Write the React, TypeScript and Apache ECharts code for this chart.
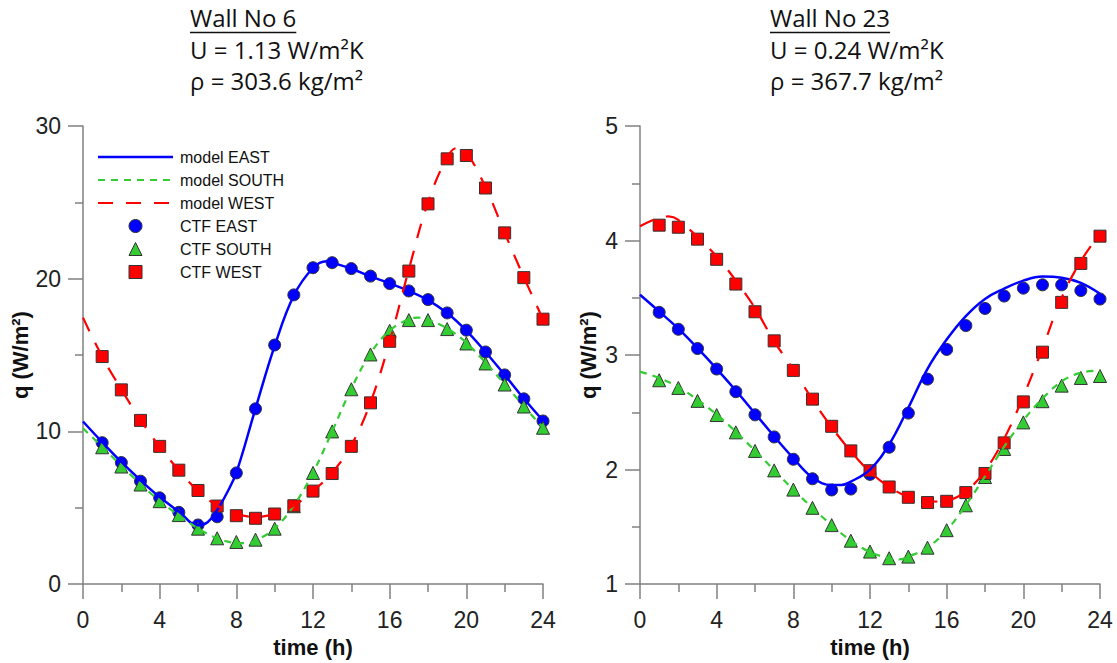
import React, { useEffect, useRef } from "react";
import * as echarts from "echarts";

// Hourly CTF results (hours 1..24)
const ctfHours = [1, 2, 3, 4, 5, 6, 7, 8, 9, 10, 11, 12, 13, 14, 15, 16, 17, 18, 19, 20, 21, 22, 23, 24];

// Wall No 6
const wall6CtfEast = [9.26, 7.96, 6.74, 5.65, 4.7, 3.87, 4.41, 7.28, 11.48, 15.66, 18.94, 20.72, 21.05, 20.66, 20.17, 19.68, 19.2, 18.63, 17.76, 16.63, 15.2, 13.7, 12.13, 10.68];
const wall6CtfSouth = [8.96, 7.7, 6.52, 5.43, 4.52, 3.63, 3.0, 2.76, 2.91, 3.63, 5.1, 7.28, 10.0, 12.76, 15.04, 16.59, 17.29, 17.29, 16.7, 15.76, 14.45, 13.07, 11.63, 10.24];
const wall6CtfWest = [14.9, 12.72, 10.72, 9.02, 7.46, 6.13, 5.11, 4.48, 4.31, 4.59, 5.13, 6.09, 7.24, 9.02, 11.87, 15.9, 20.5, 24.9, 27.85, 28.07, 25.94, 23.0, 20.07, 17.35];

const wall6ModelEastHours = [0, 1, 2, 3, 4, 5, 6, 6.5, 7, 7.5, 8, 9, 10, 11, 12, 12.7, 13, 14, 15, 16, 17, 18, 19, 20, 21, 22, 23, 24];
const wall6ModelEast = [10.65, 9.3, 8.0, 6.8, 5.7, 4.75, 3.85, 4.05, 4.85, 5.95, 7.3, 11.5, 15.6, 18.9, 20.7, 21.15, 21.05, 20.65, 20.15, 19.7, 19.2, 18.6, 17.75, 16.6, 15.2, 13.7, 12.15, 10.7];
const wall6ModelSouthHours = [0, 1, 2, 3, 4, 5, 6, 7, 8, 8.5, 9, 10, 11, 12, 13, 14, 15, 16, 17, 17.5, 18, 19, 20, 21, 22, 23, 24];
const wall6ModelSouth = [10.2, 9.0, 7.75, 6.55, 5.45, 4.5, 3.65, 3.0, 2.7, 2.68, 2.85, 3.65, 5.15, 7.3, 10.0, 12.8, 15.1, 16.6, 17.35, 17.45, 17.3, 16.75, 15.8, 14.5, 13.1, 11.65, 10.25];
const wall6ModelWestHours = [0, 1, 2, 3, 4, 5, 6, 7, 8, 9, 10, 11, 12, 13, 14, 15, 16, 17, 18, 19, 19.5, 20, 21, 22, 23, 24];
const wall6ModelWest = [17.45, 14.9, 12.75, 10.75, 9.0, 7.45, 6.1, 5.15, 4.6, 4.4, 4.6, 5.15, 6.1, 7.3, 9.1, 11.9, 15.9, 20.6, 25.0, 27.95, 28.55, 28.25, 26.0, 23.0, 20.1, 17.35];

// Wall No 23
const wall23CtfEast = [3.373, 3.225, 3.057, 2.878, 2.68, 2.478, 2.285, 2.09, 1.92, 1.822, 1.83, 1.958, 2.195, 2.493, 2.79, 3.049, 3.257, 3.407, 3.515, 3.584, 3.613, 3.613, 3.563, 3.489];
const wall23CtfSouth = [2.78, 2.713, 2.6, 2.476, 2.325, 2.163, 1.993, 1.825, 1.666, 1.515, 1.379, 1.284, 1.226, 1.24, 1.318, 1.471, 1.688, 1.935, 2.18, 2.412, 2.597, 2.733, 2.8, 2.817];
const wall23CtfWest = [4.134, 4.116, 4.012, 3.836, 3.62, 3.378, 3.124, 2.866, 2.615, 2.378, 2.163, 1.99, 1.848, 1.758, 1.712, 1.723, 1.799, 1.966, 2.233, 2.591, 3.025, 3.46, 3.8, 4.038];

const wall23ModelEastHours = [0, 1, 2, 3, 4, 5, 6, 7, 8, 9, 10, 10.5, 11, 12, 13, 14, 15, 16, 17, 18, 19, 20, 21, 22, 23, 24];
const wall23ModelEast = [3.526, 3.38, 3.23, 3.06, 2.88, 2.69, 2.49, 2.29, 2.1, 1.93, 1.865, 1.865, 1.895, 2.0, 2.22, 2.54, 2.88, 3.135, 3.34, 3.49, 3.58, 3.65, 3.685, 3.675, 3.63, 3.535];
const wall23ModelSouthHours = [0, 1, 2, 3, 4, 5, 6, 7, 8, 9, 10, 11, 12, 13, 13.5, 14, 15, 16, 17, 18, 19, 20, 21, 22, 23, 24];
const wall23ModelSouth = [2.855, 2.8, 2.72, 2.61, 2.48, 2.33, 2.165, 1.995, 1.825, 1.665, 1.515, 1.38, 1.28, 1.225, 1.215, 1.24, 1.32, 1.47, 1.69, 1.94, 2.2, 2.43, 2.62, 2.77, 2.845, 2.865];
const wall23ModelWestHours = [0, 1, 1.5, 2, 3, 4, 5, 6, 7, 8, 9, 10, 11, 12, 13, 14, 15, 16, 17, 18, 19, 20, 21, 22, 23, 24];
const wall23ModelWest = [4.125, 4.2, 4.21, 4.18, 4.03, 3.86, 3.65, 3.41, 3.12, 2.875, 2.61, 2.37, 2.16, 1.98, 1.85, 1.76, 1.72, 1.73, 1.81, 1.99, 2.27, 2.64, 3.06, 3.5, 3.82, 4.06];

const wall6Title = ["Wall No 6", "U = 1.13 W/m²K", "ρ = 303.6 kg/m²"];
const wall23Title = ["Wall No 23", "U = 0.24 W/m²K", "ρ = 367.7 kg/m²"];

const legendNames = ["model EAST", "model SOUTH", "model WEST", "CTF EAST", "CTF SOUTH", "CTF WEST"];

const BLUE = "#0000ff";
const GREEN = "#33cc33";
const RED = "#ff0000";
const MARK_BORDER = "#333333";
const AXIS_GRAY = "#808080";
const LABEL_FONT = "'Liberation Sans', Arial, sans-serif";
const TITLE_FONT = "'Open Sans', 'Noto Sans', sans-serif";
const TITLE_SIZE = 24;

const SOUTH_DASH = [7, 6];
const WEST_DASH = [15, 13];

const pairs = (xs: number[], ys: number[]) => xs.map((x, i) => [x, ys[i]]);

function measure(text: string, font: string): number {
  const ctx = document.createElement("canvas").getContext("2d");
  if (!ctx) return text.length * 11;
  ctx.font = font;
  return ctx.measureText(text).width;
}

function titleGraphics(lines: string[], left: number) {
  const baselines = [29.5, 61, 92.5];
  const els: any[] = [];
  lines.forEach((t, i) => {
    els.push({
      type: "text",
      x: left,
      y: baselines[i],
      style: {
        text: t,
        fontSize: TITLE_SIZE,
        fontFamily: TITLE_FONT,
        fill: "#111",
        align: "left",
        verticalAlign: "bottom",
      },
    });
  });
  const w = measure(lines[0], `${TITLE_SIZE}px 'Open Sans'`);
  els.push({
    type: "line",
    shape: { x1: left, y1: 32.5, x2: left + w, y2: 32.5 },
    style: { stroke: "#111", lineWidth: 1.5 },
  });
  return els;
}

// Key for the Wall No 6 panel: three line samples then three marker samples
function legendGraphics(left: number, top: number) {
  const rowGap = 23;
  const lineLen = 75;
  const cx = left + lineLen / 2;
  const textX = left + lineLen + 7;
  const els: any[] = [];
  const lineStyles = [
    { stroke: BLUE, lineWidth: 2.5 },
    { stroke: GREEN, lineWidth: 2.2, lineDash: SOUTH_DASH },
    { stroke: RED, lineWidth: 2.2, lineDash: WEST_DASH },
  ];
  legendNames.forEach((name, i) => {
    const y = top + i * rowGap;
    if (i < 3) {
      els.push({ type: "line", shape: { x1: left, y1: y, x2: left + lineLen, y2: y }, style: lineStyles[i] });
    } else if (i === 3) {
      els.push({ type: "circle", shape: { cx, cy: y, r: 6.5 }, style: { fill: BLUE, stroke: MARK_BORDER, lineWidth: 1 } });
    } else if (i === 4) {
      els.push({
        type: "polygon",
        shape: { points: [[cx, y - 6.5], [cx + 6.5, y + 6.5], [cx - 6.5, y + 6.5]] },
        style: { fill: GREEN, stroke: MARK_BORDER, lineWidth: 1 },
      });
    } else {
      els.push({ type: "rect", shape: { x: cx - 6.5, y: y - 6.5, width: 13, height: 13 }, style: { fill: RED, stroke: MARK_BORDER, lineWidth: 1 } });
    }
    els.push({
      type: "text",
      x: textX,
      y,
      style: { text: name, fontSize: 16, fontFamily: LABEL_FONT, fill: "#111", align: "left", verticalAlign: "middle" },
    });
  });
  return els;
}

function axes(gridIndex: number, yMin: number, yMax: number, yInterval: number, yNameGap: number) {
  const line = { color: AXIS_GRAY, width: 1.5 };
  const common = {
    type: "value" as const,
    gridIndex,
    axisLine: { show: true, lineStyle: line },
    axisTick: { show: true, length: 15, lineStyle: line },
    minorTick: { show: true, splitNumber: 2, length: 8, lineStyle: line },
    splitLine: { show: false },
    minorSplitLine: { show: false },
    nameLocation: "middle" as const,
    nameTextStyle: { fontSize: 22, fontWeight: "bold" as const, color: "#111", fontFamily: LABEL_FONT },
  };
  return {
    x: {
      ...common,
      min: 0,
      max: 24,
      interval: 4,
      axisLabel: { fontSize: 23, color: "#222", margin: 24, fontFamily: LABEL_FONT },
      name: "time (h)",
      nameGap: 50,
    },
    y: {
      ...common,
      min: yMin,
      max: yMax,
      interval: yInterval,
      axisLabel: { fontSize: 23, color: "#222", margin: 22, fontFamily: LABEL_FONT },
      name: "q (W/m²)",
      nameRotate: 90,
      nameGap: yNameGap,
    },
  };
}

function seriesFor(
  idx: number,
  mEastH: number[], mEast: number[],
  mSouthH: number[], mSouth: number[],
  mWestH: number[], mWest: number[],
  cEast: number[], cSouth: number[], cWest: number[]
) {
  const lineBase = {
    type: "line" as const,
    xAxisIndex: idx,
    yAxisIndex: idx,
    symbol: "none",
    smooth: 0.4,
  };
  const mark = { borderColor: MARK_BORDER, borderWidth: 1, opacity: 1 };
  return [
    { ...lineBase, name: "model EAST", data: pairs(mEastH, mEast), lineStyle: { color: BLUE, width: 2.5, type: "solid" }, itemStyle: { color: BLUE } },
    { ...lineBase, name: "model SOUTH", data: pairs(mSouthH, mSouth), lineStyle: { color: GREEN, width: 2.2, type: SOUTH_DASH }, itemStyle: { color: GREEN } },
    { ...lineBase, name: "model WEST", data: pairs(mWestH, mWest), lineStyle: { color: RED, width: 2.2, type: WEST_DASH }, itemStyle: { color: RED } },
    { type: "scatter", name: "CTF EAST", xAxisIndex: idx, yAxisIndex: idx, symbol: "circle", symbolSize: 12, data: pairs(ctfHours, cEast), itemStyle: { color: BLUE, ...mark } },
    { type: "scatter", name: "CTF SOUTH", xAxisIndex: idx, yAxisIndex: idx, symbol: "triangle", symbolSize: 13, data: pairs(ctfHours, cSouth), itemStyle: { color: GREEN, ...mark } },
    { type: "scatter", name: "CTF WEST", xAxisIndex: idx, yAxisIndex: idx, symbol: "rect", symbolSize: 12, data: pairs(ctfHours, cWest), itemStyle: { color: RED, ...mark } },
  ];
}

export default function App() {
  const ref = useRef<HTMLDivElement>(null);

  useEffect(() => {
    if (!ref.current) return;
    const chart = echarts.init(ref.current, undefined, { renderer: "svg" });
    const a6 = axes(0, 0, 30, 10, 50);
    const a23 = axes(1, 1, 5, 1, 41);

    chart.setOption({
      animation: false,
      backgroundColor: "#ffffff",
      grid: [
        { left: 83, top: 126, width: 460, height: 460 },
        { left: 640, top: 126, width: 460, height: 460 },
      ],
      xAxis: [a6.x, a23.x],
      yAxis: [a6.y, a23.y],
      graphic: [
        ...titleGraphics(wall6Title, 190),
        ...titleGraphics(wall23Title, 770),
        ...legendGraphics(98, 157),
      ],
      series: [
        ...seriesFor(0, wall6ModelEastHours, wall6ModelEast, wall6ModelSouthHours, wall6ModelSouth, wall6ModelWestHours, wall6ModelWest, wall6CtfEast, wall6CtfSouth, wall6CtfWest),
        ...seriesFor(1, wall23ModelEastHours, wall23ModelEast, wall23ModelSouthHours, wall23ModelSouth, wall23ModelWestHours, wall23ModelWest, wall23CtfEast, wall23CtfSouth, wall23CtfWest),
      ],
    });
    return () => chart.dispose();
  }, []);

  return (
    <div
      ref={ref}
      style={{ position: "fixed", left: 0, top: 0, width: 1117, height: 663, background: "#fff" }}
    />
  );
}
